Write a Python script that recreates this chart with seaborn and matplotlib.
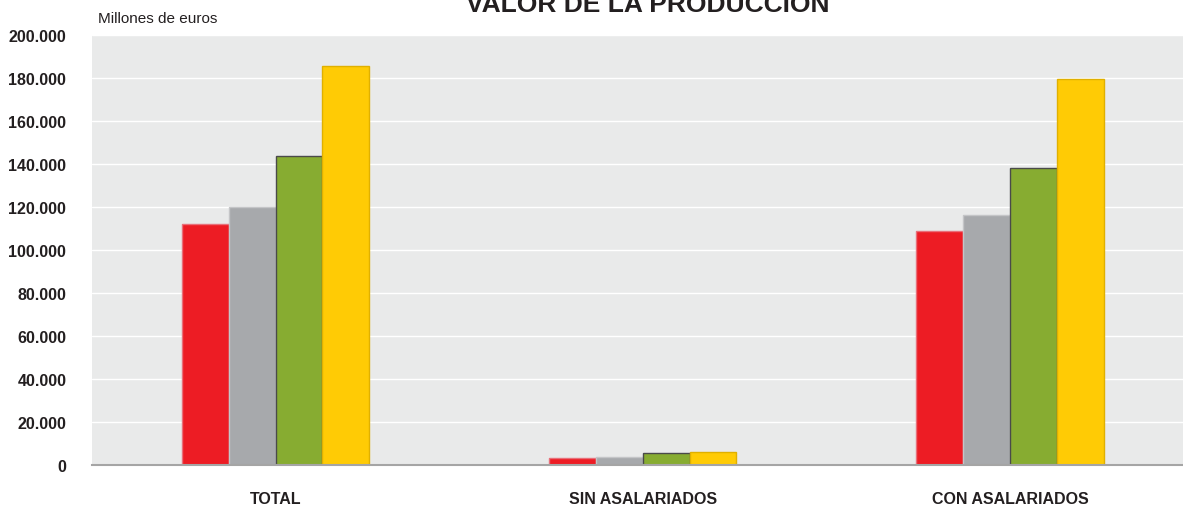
import numpy as np
import pandas as pd
import matplotlib
matplotlib.use('Agg')
import matplotlib.pyplot as plt
import seaborn as sns

categorias = ['TOTAL', 'SIN ASALARIADOS', 'CON ASALARIADOS']
series = ['serie 1', 'serie 2', 'serie 3', 'serie 4']
valores_s1 = [112100, 3300, 108900]
valores_s2 = [120200, 3900, 116300]
valores_s3 = [143600, 5400, 138300]
valores_s4 = [185400, 5900, 179500]
yticks = list(range(0, 200001, 20000))

colores = ['#ED1C24', '#A7A9AC', '#87AC31', '#FFCB05']
bordes = ['#E8707A', '#C4C5C7', '#4A4A4A', '#E0B000']

df = pd.DataFrame({
    'categoria': categorias * 4,
    'serie': np.repeat(series, 3),
    'valor': valores_s1 + valores_s2 + valores_s3 + valores_s4,
})

sns.set_style('white')
plt.rcParams['font.family'] = ['Liberation Sans', 'DejaVu Sans']

fig = plt.figure(figsize=(11.83, 5.06), dpi=100)
# el eje sobresale un poco por la derecha, como en el original
ax = fig.add_axes([92 / 1183, 40 / 506, 1101.5 / 1183, 430 / 506])

sns.barplot(data=df, x='categoria', y='valor', hue='serie', palette=colores,
            saturation=1, width=0.51, legend=False, ax=ax)
for cont, ec in zip(ax.containers, bordes):
    for bar in cont:
        bar.set_edgecolor(ec)
        bar.set_linewidth(1)

ax.set_facecolor('#E9EAEA')
ax.set_xlim(-0.5, 2.5)
ax.set_ylim(0, 200000)
ax.set_yticks(yticks)
ax.set_yticklabels([f'{v:,}'.replace(',', '.') for v in yticks], fontweight='bold', color='#231F20')
ax.set_xticks(range(len(categorias)))
ax.set_xticklabels(categorias, fontweight='bold', color='#231F20')
ax.grid(axis='y', color='white', linewidth=1.0)
ax.set_axisbelow(True)
for s in ['top', 'right', 'left']:
    ax.spines[s].set_visible(False)
ax.spines['bottom'].set_color('#A5A5A5')
ax.spines['bottom'].set_linewidth(1.5)
ax.tick_params(axis='y', length=11.5, color='#808080', width=0.8, pad=7, labelsize=11.5)
ax.tick_params(axis='x', length=0, pad=19, labelsize=11.5)
ticks = ax.yaxis.get_major_ticks()
ticks[0].tick1line.set_visible(False)
ticks[-1].tick1line.set_visible(False)
ax.set_xlabel('')
ax.set_ylabel('')

fig.text(98 / 1183, 1 - 19 / 506, 'Millones de euros', ha='left', va='center',
         fontsize=11, color='#231F20')
fig.text(648 / 1183, 1 - 12 / 506, 'VALOR DE LA PRODUCCIÓN', ha='center', va='baseline',
         fontsize=19, fontweight='bold', color='#231F20')

fig.savefig('out.png', dpi=100)
